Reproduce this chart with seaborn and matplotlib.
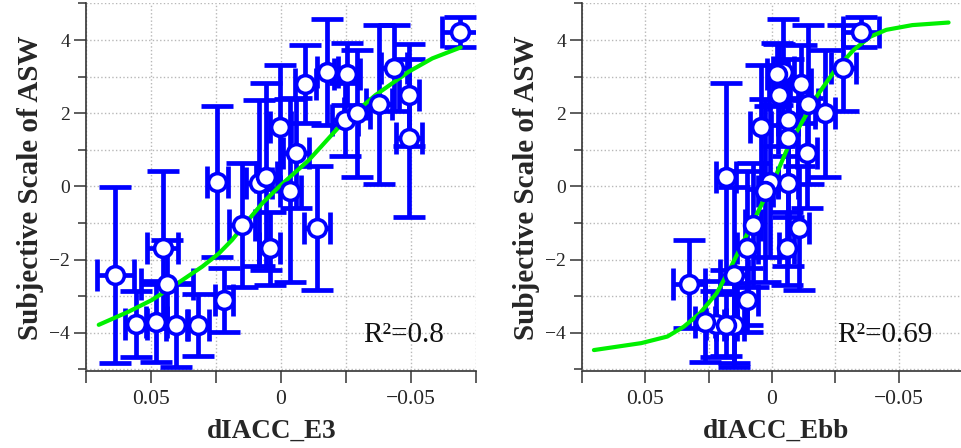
import numpy as np
import pandas as pd
import matplotlib
matplotlib.use('Agg')
import matplotlib.pyplot as plt
import seaborn as sns

# subjective ASW scale value and its spread, one entry per stimulus (shared by both panels)
asw_mean = [-2.42, -3.76, -3.69, -1.69, -2.66, -3.78, -3.78, 0.13, -3.10, -1.05,
            0.09, 0.27, -1.69, 1.63, -0.11, 0.91, 2.80, -1.14, 3.14, 1.82,
            3.07, 2.00, 2.25, 3.23, 2.50, 1.32, 4.22]
asw_sd = [2.40, 0.90, 1.10, 2.10, 1.20, 1.15, 0.85, 2.07, 0.87, 1.70,
          2.27, 2.56, 1.00, 1.70, 2.50, 1.50, 1.07, 1.70, 1.45, 1.00,
          0.85, 1.73, 2.17, 1.18, 1.40, 2.15, 0.40]

# dIACC_E3 (left panel)
e3_x = [0.0637, 0.0557, 0.0480, 0.0455, 0.0438, 0.0403, 0.0318, 0.0245, 0.0220, 0.0149,
        0.0085, 0.0057, 0.0043, 0.0002, -0.0035, -0.0056, -0.0094, -0.0139, -0.0178, -0.0248,
        -0.0255, -0.0293, -0.0376, -0.0434, -0.0492, -0.0492, -0.0690]
e3_err = [0.007, 0.0043, 0.004, 0.006, 0.010, 0.004, 0.004, 0.004, 0.0035, 0.005,
          0.005, 0.004, 0.004, 0.004, 0.004, 0.005, 0.004, 0.005, 0.004, 0.005,
          0.005, 0.005, 0.005, 0.005, 0.004, 0.005, 0.007]

# dIACC_Ebb (right panel)
ebb_x = [0.0149, 0.0220, 0.0265, 0.0097, 0.0329, 0.0149, 0.0180, 0.0007, 0.0097, 0.0075,
         -0.0064, 0.0181, -0.0058, 0.0045, 0.0026, -0.0138, -0.0113, -0.0106, -0.0045, -0.0064,
         -0.0020, -0.0209, -0.0142, -0.0281, -0.0028, -0.0064, -0.0352]
ebb_err = [0.0055, 0.004, 0.004, 0.004, 0.0063, 0.004, 0.004, 0.003, 0.004, 0.003,
           0.004, 0.004, 0.003, 0.004, 0.003, 0.004, 0.004, 0.004, 0.004, 0.004,
           0.004, 0.004, 0.004, 0.005, 0.004, 0.004, 0.007]

# fitted curves
e3_fit_x = [0.0701, 0.0586, 0.0496, 0.0438, 0.0380, 0.0303, 0.0239, 0.0188, 0.0137, 0.0072,
            0.0008, -0.0107, -0.0236, -0.0364, -0.0492, -0.0582, -0.0691]
e3_fit_y = [-3.78, -3.42, -3.10, -2.83, -2.56, -2.19, -1.83, -1.46, -1.01, -0.46,
            -0.01, 0.72, 1.73, 2.50, 3.14, 3.50, 3.80]
ebb_fit_x = [0.0703, 0.0516, 0.0413, 0.0348, 0.0284, 0.0219, 0.0168, 0.0116, 0.0065, 0.0026,
             -0.0019, -0.0064, -0.0116, -0.0180, -0.0245, -0.0322, -0.0387, -0.0451, -0.0554, -0.0697]
ebb_fit_y = [-4.47, -4.28, -4.10, -3.83, -3.46, -2.92, -2.28, -1.55, -0.83, -0.28,
             0.36, 1.09, 1.73, 2.50, 3.14, 3.73, 4.09, 4.28, 4.41, 4.48]

x_ticks = [0.075, 0.05, 0.025, 0, -0.025, -0.05, -0.075]
x_tick_labels = ['', '0.05', '', '0', '', '\u22120.05', '']
y_ticks = [-4, -2, 0, 2, 4]
y_minor = [-5, -3, -1, 1, 3, 5]

sns.set_theme(style='ticks')
plt.rcParams['font.family'] = ['Liberation Serif', 'DejaVu Serif']

fig = plt.figure(figsize=(9.62, 4.48), dpi=100)
bottom = (448 - 371.3) / 448
height = 367.8 / 448
ax1 = fig.add_axes([86 / 962, bottom, 390 / 962, height])
ax2 = fig.add_axes([582 / 962, bottom, 380 / 962, height])

blue = '#0000ff'


def draw_panel(ax, x, xerr, fx, fy, r2_text, r2_x, xlabel, xlim, xlab_pos):
    ax.errorbar(x, asw_mean, xerr=xerr, yerr=asw_sd, fmt='none', ecolor=blue,
                elinewidth=3.4, capsize=11.5, capthick=3.4, zorder=2)
    fit = pd.DataFrame({'x': fx, 'y': fy})
    sns.lineplot(data=fit, x='x', y='y', ax=ax, color='#00f000', linewidth=3,
                 sort=False, zorder=3)
    pts = pd.DataFrame({'x': x, 'y': asw_mean})
    sns.scatterplot(data=pts, x='x', y='y', ax=ax, s=165, color='white',
                    edgecolor=blue, linewidth=2.6, zorder=4)

    ax.set_xlim(xlim)
    ax.set_ylim(-5.05, 5.0)
    ax.set_xticks(x_ticks)
    ax.set_xticklabels(x_tick_labels)
    ax.set_yticks(y_ticks)
    ax.set_yticks(y_minor, minor=True)
    ax.grid(True, which='both', color='#b8b8b8', linestyle=':', linewidth=1)
    ax.set_axisbelow(True)
    for side in ['top', 'right']:
        ax.spines[side].set_visible(False)
    for side in ['left', 'bottom']:
        ax.spines[side].set_color('#333333')
        ax.spines[side].set_linewidth(1.2)
    ax.spines['left'].set_bounds(-5, 5)
    ax.tick_params(which='major', direction='out', length=8.5, width=1.1,
                   color='#333333', labelsize=14, pad=3)
    ax.tick_params(axis='x', which='major', labelsize=15.5, pad=5)
    ax.tick_params(which='minor', direction='out', length=6, width=1.1, color='#333333')
    ax.tick_params(axis='x', which='minor', bottom=False)

    ax.text(r2_x, -4.25, r2_text, fontsize=21, ha='center', va='baseline', color='#111111')

    ax.set_xlabel(xlabel, fontsize=19.5, fontweight='bold')
    ax.set_ylabel('Subjective Scale of ASW', fontsize=21, fontweight='bold')
    ax.xaxis.set_label_coords(xlab_pos, -0.13)
    ax.yaxis.set_label_coords(-0.108, 0.5)


draw_panel(ax1, e3_x, e3_err, e3_fit_x, e3_fit_y, 'R\u00b2=0.8', -0.0471,
           'dIACC_E3', (0.075, -0.075), 0.477)
draw_panel(ax2, ebb_x, ebb_err, ebb_fit_x, ebb_fit_y, 'R\u00b2=0.69', -0.0444,
           'dIACC_Ebb', (0.075, -0.0721), 0.51)
ax2.yaxis.set_label_coords(-0.11, 0.5)

fig.savefig('out.png', dpi=100)
